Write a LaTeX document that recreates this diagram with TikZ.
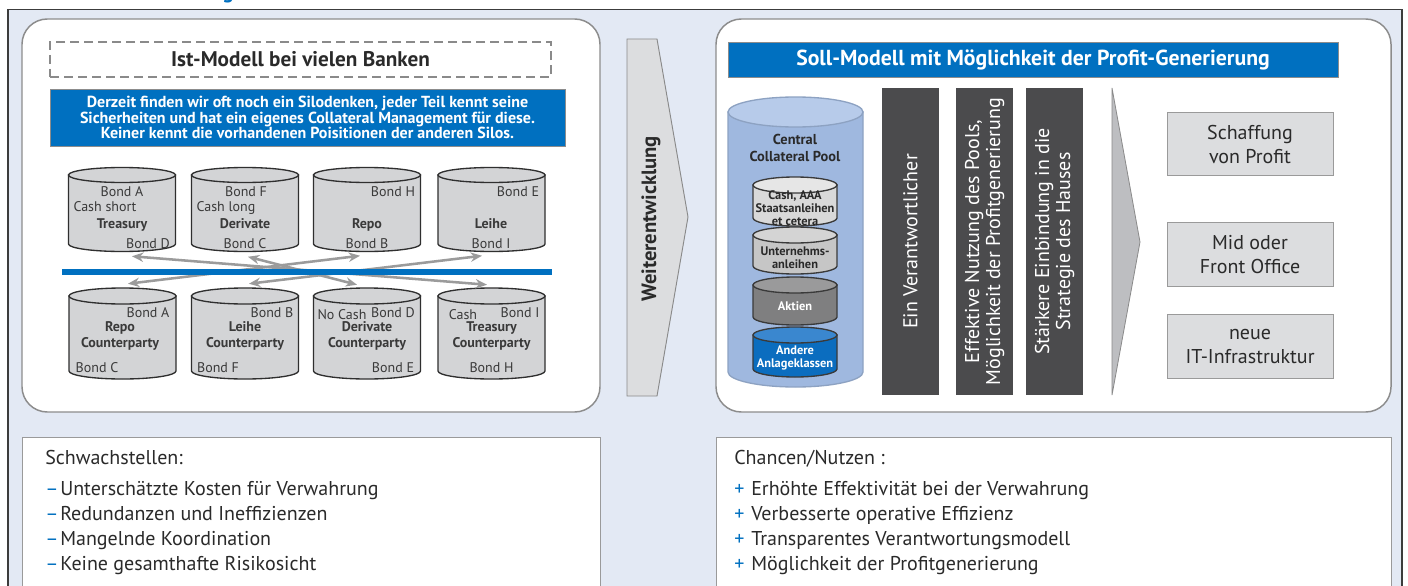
\documentclass[tikz,border=0pt]{standalone}
\usepackage{fontspec}
\setmainfont{PT Sans}
\usetikzlibrary{arrows.meta}
\definecolor{bgblue}{HTML}{E3E9F4}
\definecolor{mblue}{HTML}{0070C0}
\definecolor{framegray}{HTML}{3C3C3C}
\definecolor{panelgray}{HTML}{8C8C8C}
\definecolor{cylgray}{HTML}{D3D4D6}
\definecolor{cyledge}{HTML}{2F2F2F}
\definecolor{arrowgray}{HTML}{9B9B9B}
\definecolor{txt}{HTML}{2A2A2A}
\definecolor{cyltxt}{HTML}{3A3A3A}
\definecolor{darkbar}{HTML}{4B4B4D}
\definecolor{boxgray}{HTML}{DCDDDF}
\definecolor{boxedge}{HTML}{9A9A9A}
\definecolor{poolbody}{HTML}{9FB8DF}
\definecolor{pooltop}{HTML}{B7CBEA}
\definecolor{pooledge}{HTML}{8DA2C2}
\definecolor{innerA}{HTML}{D9D9D9}
\definecolor{innerAtop}{HTML}{E6E6E6}
\definecolor{innerB}{HTML}{C6C6C6}
\definecolor{innerBtop}{HTML}{D4D4D4}
\definecolor{innerC}{HTML}{7F7F80}
\definecolor{innerCtop}{HTML}{9A9A9B}
\definecolor{innerD}{HTML}{0B6DBF}
\definecolor{innerDtop}{HTML}{3A87CF}
\definecolor{inneredge}{HTML}{3A3A3A}
\definecolor{arrowfill}{HTML}{DCDDDF}
\definecolor{arrowedge}{HTML}{8A8A8A}
\definecolor{trifill}{HTML}{BDBEC1}

\newcommand\fcyl{\fontsize{10.5pt}{12pt}\selectfont}
\newcommand\fcylb{\fontsize{10.5pt}{12pt}\selectfont\bfseries}
\newcommand\fbluet{\fontsize{12pt}{11.4pt}\selectfont\bfseries}
\newcommand\ftitle{\fontsize{15.9pt}{18pt}\selectfont\bfseries}
\newcommand\fsoll{\fontsize{16.3pt}{18pt}\selectfont\bfseries}
\newcommand\fweiter{\fontsize{15.5pt}{17pt}\selectfont\bfseries}
\newcommand\fpool{\fontsize{10.8pt}{12.75pt}\selectfont\bfseries}
\newcommand\finner{\fontsize{9.3pt}{9.75pt}\selectfont\bfseries}
\newcommand\fbar{\fontsize{15pt}{15.75pt}\selectfont}
\newcommand\fgb{\fontsize{15pt}{18pt}\selectfont}
\newcommand\flist{\fontsize{15pt}{18pt}\selectfont}

% name, cx, ty, by, rx, ry, body fill, top fill, edge colour
\newcommand\cyl[9]{%
  \path[draw=#9, line width=1pt, fill=#7]
    ({#2-#5},#3) -- ({#2-#5},#4)
    .. controls ({#2-#5},{#4+0.5523*#6}) and ({#2-0.5523*#5},{#4+#6}) .. (#2,{#4+#6})
    .. controls ({#2+0.5523*#5},{#4+#6}) and ({#2+#5},{#4+0.5523*#6}) .. ({#2+#5},#4)
    -- ({#2+#5},#3) -- cycle;
  \path[draw=#9, line width=1pt, fill=#8] (#2,#3) ellipse [x radius={#5*0.75pt}, y radius={#6*0.75pt}];
  \node[inner sep=0pt, minimum width={2*#5*0.75pt}, minimum height={(#4-#3+2*#6)*0.75pt}] (#1) at (#2,{(#3+#4)/2}) {};
}

\begin{document}
\begin{tikzpicture}[x=0.75pt,y=-0.75pt,
  lbl/.style={inner sep=0pt, anchor=base, text=cyltxt, font=\fcyl},
  lblb/.style={inner sep=0pt, anchor=base, text=cyltxt, font=\fcylb},
  conn/.style={draw=arrowgray, line width=1.9pt, >={Stealth[length=8.5pt,width=7pt]}, <->},
  panel/.style={draw=panelgray, line width=1.1pt, fill=white, rounded corners=19pt},
  graybox/.style={draw=boxedge, fill=boxgray, line width=0.6pt, minimum width=124.5pt, minimum height=47.5pt, align=center, text=txt, font=\fgb, inner sep=0pt},
  barbox/.style={fill=darkbar, rotate=90, minimum width=230.25pt, minimum height=42.75pt, align=center, text=white, font=\fbar, inner sep=0pt},
  listtxt/.style={inner sep=0pt, anchor=base west, text=txt, font=\flist},
  bul/.style={inner sep=0pt, anchor=base west, text=mblue, font=\flist},
  innertxt/.style={inner sep=0pt, align=center, font=\finner},
]
\useasboundingbox (0,0) rectangle (1408,585);
\clip (0,0) rectangle (1408,585);
\fill[white] (0,0) rectangle (1408,585);

% cut-off caption glyph
\node[inner sep=0pt, anchor=base, text=mblue, font=\ftitle] (cap) at (228,-1) {g};

% outer frame
\fill[bgblue] (8,9.5) rectangle (1402,600);
\draw[framegray, line width=1.2pt] (8,600) -- (8,9.5) -- (1402,9.5) -- (1402,600);

% panels
\path[panel] (22,19) rectangle (600,412);
\path[panel] (716,19) rectangle (1391,412);

% ---------- left panel ----------
\node[draw=arrowedge, dash pattern=on 6.5pt off 4pt, line width=0.8pt, minimum width=375.75pt, minimum height=26.25pt, inner sep=0pt, text=txt, font=\ftitle] (isttitle) at (300.5,59.5) {Ist-Modell bei vielen Banken};
\node[fill=mblue, draw=panelgray, line width=0.6pt, minimum width=386.25pt, minimum height=42.75pt, inner sep=0pt, align=center, text=white, font=\fbluet] (silo) at (307.5,117.5)
  {Derzeit finden wir oft noch ein Silodenken, jeder Teil kennt seine\\Sicherheiten und hat ein eigenes Collateral Management für diese.\\Keiner kennt die vorhandenen Poisitionen der anderen Silos.};

% top row cylinders
\cyl{treasury}{122}{175}{244}{53.5}{7.5}{cylgray}{cylgray}{cyledge}
\cyl{derivate}{245}{175}{244}{53.5}{7.5}{cylgray}{cylgray}{cyledge}
\cyl{repo}{367}{175}{244}{53.5}{7.5}{cylgray}{cylgray}{cyledge}
\cyl{leihe}{491.5}{175}{244}{53.5}{7.5}{cylgray}{cylgray}{cyledge}

\node[lbl] (t1a) at (122,196) {Bond A};
\node[lbl] (t1b) at (105,211) {Cash short};
\node[lblb] (t1c) at (122,228) {Treasury};
\node[lbl] (t1d) at (148,248) {Bond D};

\node[lbl] (t2a) at (246,196) {Bond F};
\node[lbl] (t2b) at (226,211) {Cash long};
\node[lblb] (t2c) at (245,228) {Derivate};
\node[lbl] (t2d) at (245,248) {Bond C};

\node[lbl] (t3a) at (393,196) {Bond H};
\node[lblb] (t3c) at (367,228) {Repo};
\node[lbl] (t3d) at (367,248) {Bond B};

\node[lbl] (t4a) at (518,196) {Bond E};
\node[lblb] (t4c) at (491,228) {Leihe};
\node[lbl] (t4d) at (491,248) {Bond I};

% bottom row cylinders
\cyl{repocp}{122.5}{296}{371}{53.5}{8}{cylgray}{cylgray}{cyledge}
\cyl{leihecp}{245}{296}{371}{53.5}{8}{cylgray}{cylgray}{cyledge}
\cyl{derivcp}{367}{296}{371}{53.5}{8}{cylgray}{cylgray}{cyledge}
\cyl{treascp}{491.5}{296}{371}{53.5}{8}{cylgray}{cylgray}{cyledge}

\node[lbl] (b1a) at (148,317) {Bond A};
\node[lblb, align=center, anchor=center] (b1c) at (120,336) {Repo\\Counterparty};
\node[lbl] (b1d) at (97,372) {Bond C};

\node[lbl] (b2a) at (272,317) {Bond B};
\node[lblb, align=center, anchor=center] (b2c) at (245,336) {Leihe\\Counterparty};
\node[lbl] (b2d) at (218,372) {Bond F};

\node[lbl] (b3n) at (342,319) {No Cash};
\node[lbl] (b3a) at (393,317) {Bond D};
\node[lblb, align=center, anchor=center] (b3c) at (367,336) {Derivate\\Counterparty};
\node[lbl] (b3d) at (393,372) {Bond E};

\node[lbl] (b4n) at (463,319) {Cash};
\node[lbl] (b4a) at (520,317) {Bond I};
\node[lblb, align=center, anchor=center] (b4c) at (491.5,336) {Treasury\\Counterparty};
\node[lbl] (b4d) at (491.5,372) {Bond H};

% connectors
\draw[conn] ([shift={(10,4.5)}]treasury.south) -- ([shift={(-4.5,-3)}]treascp.north);
\draw[conn] ([shift={(3,5)}]derivate.south) -- ([shift={(-10,-3)}]derivcp.north);
\draw[conn] ([shift={(-7,4)}]repo.south) -- ([shift={(5.5,-4)}]repocp.north);
\draw[conn] ([shift={(-9.5,4)}]leihe.south) -- ([shift={(4,-4)}]leihecp.north);

% blue divider
\draw[mblue, line width=4.5pt] (62,272) -- (552,272);

% ---------- middle arrow ----------
\path[fill=arrowfill, draw=arrowedge, line width=0.7pt] (627,39) -- (657,39) -- (688,217) -- (657,396) -- (627,396) -- cycle;
\node[rotate=90, inner sep=0pt, text=txt, font=\fweiter] (weiter) at (651,219) {Weiterentwicklung};

% ---------- right panel ----------
\node[fill=mblue, draw=panelgray, line width=0.6pt, minimum width=457.5pt, minimum height=26.25pt, inner sep=0pt, text=white, font=\fsoll] (soll) at (1033,59.5) {Soll-Modell mit Möglichkeit der Profit-Generierung};

% central pool
\cyl{pool}{795.5}{112}{372}{67.5}{15}{poolbody}{pooltop}{pooledge}
\node[inner sep=0pt, align=center, text=txt, font=\fpool] (pooltxt) at (795,148) {Central\\Collateral Pool};

\cyl{cashc}{795}{185}{218}{42}{8}{innerA}{innerAtop}{inneredge}
\node[innertxt, text=txt] (cashtxt) at (795,208) {Cash, AAA\\Staatsanleihen\\et cetera};
\cyl{untc}{795}{235}{266}{42}{8}{innerB}{innerBtop}{inneredge}
\node[innertxt, text=txt] (unttxt) at (795,257.5) {Unternehms-\\anleihen};
\cyl{aktc}{795}{285}{317}{42}{8}{innerC}{innerCtop}{inneredge}
\node[innertxt, text=white] (akttxt) at (795,306) {Aktien};
\cyl{andc}{795}{335}{369}{42}{8}{innerD}{innerDtop}{inneredge}
\node[innertxt, text=white] (andtxt) at (795,358) {Andere\\Anlageklassen};

% dark bars
\node[barbox] (bar1) at (910.5,241.5) {Ein Verantwortlicher};
\node[barbox] (bar2) at (984.5,241.5) {Effektive Nutzung des Pools,\\Möglichkeit der Profitgenerierung};
\node[barbox] (bar3) at (1054.5,241.5) {Stärkere Einbindung in die\\Strategie des Hauses};

% chevron
\path[fill=trifill, draw=arrowedge, line width=0.6pt] (1112,88) -- (1140,242) -- (1112,395) -- cycle;

% gray boxes
\node[graybox] (g1) at (1250,144) {Schaffung\\von Profit};
\node[graybox] (g2) at (1250,254.5) {Mid oder\\Front Office};
\node[graybox] (g3) at (1250,346.5) {neue\\IT-Infrastruktur};

% ---------- bottom boxes ----------
\draw[draw=boxedge, fill=white, line width=0.7pt] (22,437) rectangle (600,600);
\draw[draw=boxedge, fill=white, line width=0.7pt] (716,437) rectangle (1391,600);

\node[listtxt] (sw0) at (45,464) {Schwachstellen:};
\node[bul] (swd1) at (45,495) {–};
\node[listtxt] (sw1) at (60,495) {Unterschätzte Kosten für Verwahrung};
\node[bul] (swd2) at (45,520) {–};
\node[listtxt] (sw2) at (60,520) {Redundanzen und Ineffizienzen};
\node[bul] (swd3) at (45,545) {–};
\node[listtxt] (sw3) at (60,545) {Mangelnde Koordination};
\node[bul] (swd4) at (45,570) {–};
\node[listtxt] (sw4) at (60,570) {Keine gesamthafte Risikosicht};

\node[listtxt] (ch0) at (734,464) {Chancen/Nutzen :};
\node[bul] (chp1) at (734,495) {+};
\node[listtxt] (ch1) at (751,495) {Erhöhte Effektivität bei der Verwahrung};
\node[bul] (chp2) at (734,520) {+};
\node[listtxt] (ch2) at (751,520) {Verbesserte operative Effizienz};
\node[bul] (chp3) at (734,545) {+};
\node[listtxt] (ch3) at (751,545) {Transparentes Verantwortungsmodell};
\node[bul] (chp4) at (734,570) {+};
\node[listtxt] (ch4) at (751,570) {Möglichkeit der Profitgenerierung};
\end{tikzpicture}
\end{document}
